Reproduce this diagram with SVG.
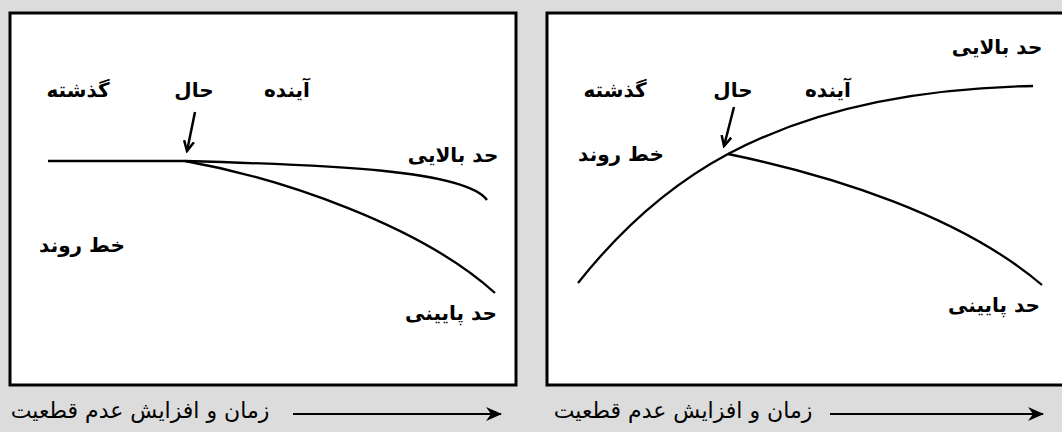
<svg xmlns="http://www.w3.org/2000/svg" width="1062" height="432" viewBox="0 0 1062 432">
<style>
.bg{fill:#dcdcdc}
.panel{fill:#ffffff;stroke:#000;stroke-width:3}
.curve{fill:none;stroke:#000;stroke-width:2.3}
.lbl{font-family:"DejaVu Sans","Noto Sans",sans-serif;font-weight:bold;font-size:20px;fill:#000;text-anchor:middle}
.axis{font-family:"DejaVu Sans","Liberation Serif",serif;font-size:22px;fill:#000;text-anchor:middle}
.ptr{fill:none;stroke:#000;stroke-width:2.5;marker-end:url(#open)}
.tl{fill:none;stroke:#000;stroke-width:2;marker-end:url(#solid)}
</style>
<defs>
<marker id="open" viewBox="0 0 12 12" refX="10" refY="6" markerWidth="12" markerHeight="12" markerUnits="userSpaceOnUse" orient="auto">
<polyline points="0,1 10,6 0,11" fill="none" stroke="#000" stroke-width="2.5"/>
</marker>
<marker id="solid" viewBox="0 0 16 16" refX="15" refY="8" markerWidth="16" markerHeight="16" markerUnits="userSpaceOnUse" orient="auto">
<path d="M0,1 L16,8 L0,15 L5,8 Z" fill="#000"/>
</marker>
</defs>
<rect class="bg" x="0" y="0" width="1062" height="432"/>
<g id="panel-left">
<rect class="panel" x="10" y="13" width="506" height="372"/>
<text class="lbl" x="78" y="97">گذشته</text>
<text class="lbl" x="194" y="97">حال</text>
<text class="lbl" x="287" y="97">آینده</text>
<text class="lbl" x="453" y="162">حد بالایی</text>
<text class="lbl" x="82" y="252">خط روند</text>
<text class="lbl" x="451" y="320">حد پایینی</text>
</g>
<g id="panel-right">
<rect class="panel" x="547" y="13" width="530" height="372"/>
<text class="lbl" x="997" y="54">حد بالایی</text>
<text class="lbl" x="615" y="97">گذشته</text>
<text class="lbl" x="733" y="97">حال</text>
<text class="lbl" x="828" y="97">آینده</text>
<text class="lbl" x="621" y="161">خط روند</text>
<text class="lbl" x="994" y="312">حد پایینی</text>
</g>
<g id="axis-left">
<text class="axis" x="140" y="418">زمان و افزایش عدم قطعیت</text>
</g>
<g id="axis-right">
<text class="axis" x="683" y="418">زمان و افزایش عدم قطعیت</text>
</g>
<g id="connectors">
<path class="curve" d="M48,161 L185,161"/>
<path class="curve" d="M185,161 C330,165 465,170 487,200"/>
<path class="curve" d="M185,161 C280,178 420,225 495,293"/>
<path class="ptr" d="M195,112 L187,151"/>
<path class="curve" d="M578,283 C620,230 670,185 728,154 C820,105 930,88 1033,86"/>
<path class="curve" d="M728,154 C830,175 960,215 1042,285"/>
<path class="ptr" d="M734,107 L724,146"/>
<path class="tl" d="M293,414 L501,414"/>
<path class="tl" d="M830,414 L1043,414"/>
</g>
</svg>
